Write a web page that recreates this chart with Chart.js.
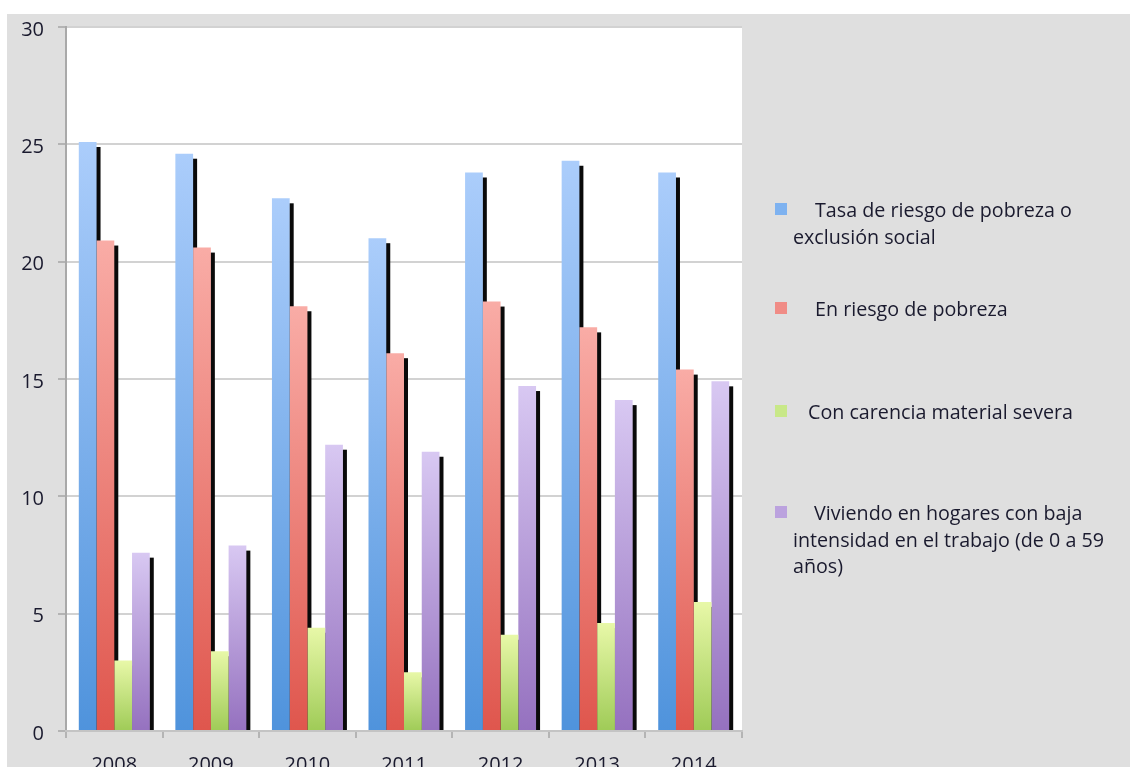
<!DOCTYPE html>
<html>
<head>
<meta charset="utf-8">
<script src="https://cdn.jsdelivr.net/npm/chart.js@4.4.1/dist/chart.umd.min.js"></script>
<style>
html, body { margin: 0; padding: 0; background: #fff; overflow: hidden; }
#wrap { position: absolute; left: 7px; top: 14px; width: 1123px; height: 753px; background: #dfdfdf; }
#chart { position: absolute; left: 0; top: 0; }
.item { position: absolute; left: 786px; width: 330px; font-family: "Open Sans", Lato, sans-serif; font-size: 19.7px; line-height: 26.5px; color: #1a1a2e; }
.item .sq { position: absolute; left: -18px; top: 6px; width: 12px; height: 12px; }
</style>
</head>
<body>
<div id="wrap">
  <canvas id="chart" width="1123" height="753"></canvas>
  <div id="legend"></div>
</div>
<script>
// datos
var years = ["2008", "2009", "2010", "2011", "2012", "2013", "2014"];
var seriesNames = [
    "Tasa de riesgo de pobreza o exclusión social",
    "En riesgo de pobreza",
    "Con carencia material severa",
    "Viviendo en hogares con baja intensidad en el trabajo (de 0 a 59 años)"
];
var tasaRiesgo = [25.1, 24.6, 22.7, 21.0, 23.8, 24.3, 23.8];
var riesgoPobreza = [20.9, 20.6, 18.1, 16.1, 18.3, 17.2, 15.4];
var carencia = [3.0, 3.4, 4.4, 2.5, 4.1, 4.6, 5.5];
var bajaIntensidad = [7.6, 7.9, 12.2, 11.9, 14.7, 14.1, 14.9];
var yTicks = [0, 5, 10, 15, 20, 25, 30];

// colores (arriba / abajo del degradado)
var topColors = ["#abcdfb", "#f9aca6", "#e8f8a8", "#d8c8f2"];
var bottomColors = ["#4f93dc", "#df564d", "#9fcb57", "#9571bf"];
var legendColors = ["#7eb2f0", "#f08c86", "#c8e888", "#bba2de"];

function gradientFor(i) {
    return function(ctx) {
        var chart = ctx.chart;
        if (!chart.chartArea || ctx.raw == null) return bottomColors[i];
        var y = chart.scales.y;
        var top = y.getPixelForValue(ctx.raw);
        var base = y.getPixelForValue(0);
        if (base - top < 1) return bottomColors[i];
        var g = chart.ctx.createLinearGradient(0, top, 0, base);
        g.addColorStop(0, topColors[i]);
        g.addColorStop(1, bottomColors[i]);
        return g;
    };
}

// fondo blanco del área de trazado
var plotBg = {
    id: "plotBg",
    beforeDraw: function(chart) {
        var a = chart.chartArea;
        chart.ctx.save();
        chart.ctx.fillStyle = "#ffffff";
        chart.ctx.fillRect(a.left, a.top, a.right - a.left, a.bottom - a.top);
        chart.ctx.restore();
    }
};

// sombra negra a la derecha de cada barra
var barShadow = {
    id: "barShadow",
    beforeDatasetsDraw: function(chart) {
        var c = chart.ctx;
        var a = chart.chartArea;
        c.save();
        c.beginPath();
        c.rect(a.left, a.top, a.right - a.left, a.bottom - a.top);
        c.clip();
        c.fillStyle = "#0a0a0a";
        chart.data.datasets.forEach(function(ds, i) {
            chart.getDatasetMeta(i).data.forEach(function(bar) {
                var right = bar.x + bar.width / 2;
                c.fillRect(right - 0.5, bar.y + 5, 4.5, bar.base - bar.y - 5);
            });
        });
        c.restore();
    }
};

var dataSets = [tasaRiesgo, riesgoPobreza, carencia, bajaIntensidad];
var tickFont = { family: "Open Sans", size: 20 };

new Chart(document.getElementById("chart"), {
    type: "bar",
    data: {
        labels: years,
        datasets: dataSets.map(function(d, i) {
            return {
                label: seriesNames[i],
                data: d,
                backgroundColor: gradientFor(i),
                borderWidth: 0,
                categoryPercentage: 0.735,
                barPercentage: 1.0
            };
        })
    },
    options: {
        responsive: false,
        animation: false,
        layout: { padding: { left: 0, right: 388, top: 13, bottom: 0 } },
        plugins: { legend: { display: false }, tooltip: { enabled: false } },
        scales: {
            y: {
                min: 0,
                max: 30,
                afterFit: function(s) { s.width = 59; s.paddingTop = 0; s.paddingBottom = 0; },
                afterBuildTicks: function(s) { s.ticks = yTicks.map(function(v) { return { value: v }; }); },
                ticks: { padding: 14, labelOffset: 3, color: "#1a1a2e", font: tickFont },
                grid: { color: "#d2d2d2", lineWidth: 2, tickLength: 8, tickColor: "#b4b4b4" },
                border: { display: true, color: "#a9a9a9", width: 2 }
            },
            x: {
                afterFit: function(s) { s.height = 36; },
                ticks: { padding: 15, color: "#1a1a2e", font: tickFont },
                grid: { drawOnChartArea: false, offset: true, tickLength: 7, color: "#b4b4b4", lineWidth: 2 },
                border: { display: true, color: "#c4c4c4", width: 2 }
            }
        }
    },
    plugins: [plotBg, barShadow]
});

// leyenda a la derecha
var legendTops = [197, 296, 399, 500];
var indents = [22, 22, 15, 21];
var legend = document.getElementById("legend");
seriesNames.forEach(function(name, i) {
    var div = document.createElement("div");
    div.className = "item";
    div.style.top = (legendTops[i] - 14) + "px";
    div.style.textIndent = indents[i] + "px";
    var sq = document.createElement("span");
    sq.className = "sq";
    sq.style.background = legendColors[i];
    div.appendChild(sq);
    div.appendChild(document.createTextNode(name));
    legend.appendChild(div);
});
</script>
</body>
</html>
